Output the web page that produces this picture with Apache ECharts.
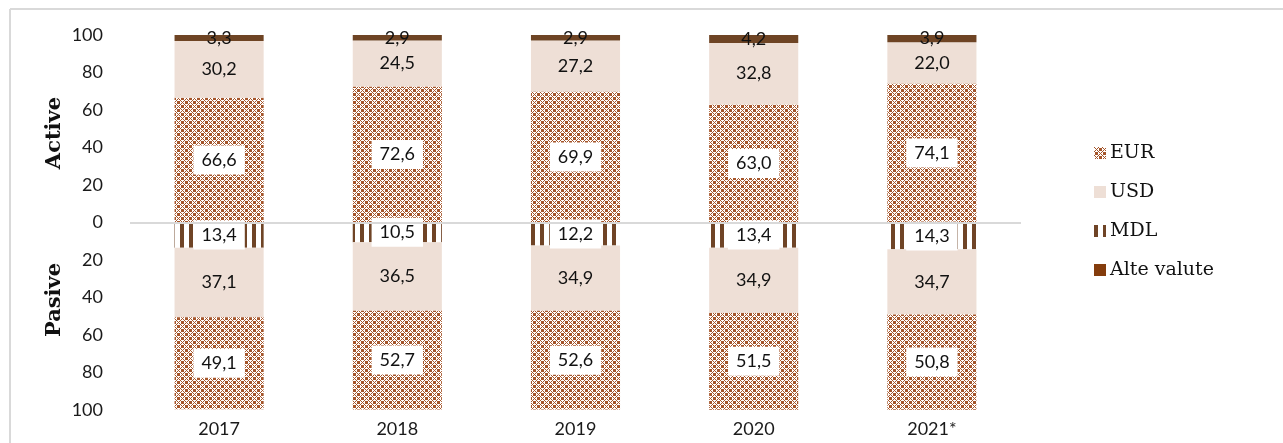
<!DOCTYPE html>
<html><head><meta charset="utf-8">
<script src="https://cdn.jsdelivr.net/npm/echarts@6/dist/echarts.min.js"></script>
<style>html,body{margin:0;padding:0;background:#fff}#c{width:1283px;height:443px}</style>
</head><body><div id="c"></div>
<script>
const years = ['2017','2018','2019','2020','2021*'];
const activeEUR  = [66.6, 72.6, 69.9, 63.0, 74.1];
const activeUSD  = [30.2, 24.5, 27.2, 32.8, 22.0];
const activeAlte = [3.3, 2.9, 2.9, 4.2, 3.9];
const pasiveMDL  = [13.4, 10.5, 12.2, 13.4, 14.3];
const pasiveUSD  = [37.1, 36.5, 34.9, 34.9, 34.7];
const pasiveEUR  = [49.1, 52.7, 52.6, 51.5, 50.8];

function eurPattern(){
  const rows = ["10001000","01010111","00100111","01010111","10001000","01110101","01110010","01110101"];
  const c = document.createElement('canvas'); c.width = 8; c.height = 8;
  const g = c.getContext('2d');
  g.fillStyle = '#ffffff'; g.fillRect(0,0,8,8);
  g.fillStyle = '#A5552A';
  rows.forEach((r,y)=>{ for(let x=0;x<8;x++){ if(r[x]==='1') g.fillRect(x,y,1,1);} });
  return {image:c, repeat:'repeat'};
}
function mdlPattern(){
  const c = document.createElement('canvas'); c.width = 9; c.height = 4;
  const g = c.getContext('2d');
  g.fillStyle = '#ffffff'; g.fillRect(0,0,9,4);
  g.fillStyle = '#6F4426'; g.fillRect(0,0,4,4);
  return {image:c, repeat:'repeat'};
}
const EUR_FILL = eurPattern();
const MDL_FILL = mdlPattern();
const USD_FILL = '#EEDFD6';
const ALTE_FILL = '#6E4424';

const fmt = p => Math.abs(p.value).toFixed(1).replace('.', ',');
const boxLabel = {show:true, position:'inside', formatter:fmt, color:'#111', fontFamily:'Lato', fontSize:18,
  backgroundColor:'#fff', padding:[6,8,5,8]};
const plainLabel = {show:true, position:'inside', formatter:fmt, color:'#111', fontFamily:'Lato', fontSize:18};

function S(name, data, color, label, neg){
  return {name, type:'bar', stack:'t', barWidth:'50%', data: neg ? data.map(v=>-v) : data,
    itemStyle:{color}, label, emphasis:{disabled:true}};
}
const series = [
  S('EUR', activeEUR, EUR_FILL, boxLabel),
  S('USD', activeUSD, USD_FILL, plainLabel),
  S('Alte valute', activeAlte, ALTE_FILL, plainLabel),
  S('MDL', pasiveMDL, MDL_FILL, boxLabel, true),
  S('USD', pasiveUSD, USD_FILL, plainLabel, true),
  S('EUR', pasiveEUR, EUR_FILL, boxLabel, true)
];
series[0].markLine = {silent:true, symbol:'none', label:{show:false}, animation:false,
  lineStyle:{color:'#D9D9D9', width:2, type:'solid'}, data:[{yAxis:0}], z:10};

const chart = echarts.init(document.getElementById('c'), null, {renderer:'canvas'});
chart.setOption({
  animation:false,
  grid:{left:130, right:262, top:35, bottom:33},
  xAxis:{type:'category', data:years, axisLine:{show:false, onZero:false}, axisTick:{show:false},
    axisLabel:{color:'#1a1a1a', fontFamily:'Lato', fontSize:18, margin:10}},
  yAxis:{type:'value', min:-100, max:100, interval:20, splitLine:{show:false},
    axisLine:{show:false}, axisTick:{show:false},
    axisLabel:{color:'#1a1a1a', fontFamily:'Lato', fontSize:18, margin:27, formatter:v=>String(Math.abs(v))}},
  legend:{orient:'vertical', left:1089, top:138, itemWidth:12, itemHeight:12, itemGap:19, icon:'rect',
    textStyle:{fontFamily:'DejaVu Serif', fontSize:19, color:'#111', lineHeight:20, padding:[0,0,0,-1]},
    data:[{name:'EUR', itemStyle:{color:EUR_FILL}}, {name:'USD', itemStyle:{color:USD_FILL}},
          {name:'MDL', itemStyle:{color:MDL_FILL}}, {name:'Alte valute', itemStyle:{color:'#843C0C'}}]},
  graphic:[
    {type:'line', shape:{x1:10, y1:9, x2:1283, y2:9}, style:{stroke:'#D9D9D9', lineWidth:2}},
    {type:'line', shape:{x1:10, y1:9, x2:10, y2:443}, style:{stroke:'#D9D9D9', lineWidth:2}},
    {type:'text', x:55, y:133, rotation:Math.PI/2, style:{text:'Active', font:'bold 21px "DejaVu Serif"', fill:'#111', align:'center', verticalAlign:'middle'}},
    {type:'text', x:55, y:300, rotation:Math.PI/2, style:{text:'Pasive', font:'bold 21px "DejaVu Serif"', fill:'#111', align:'center', verticalAlign:'middle'}}
  ],
  series
});
</script></body></html>
